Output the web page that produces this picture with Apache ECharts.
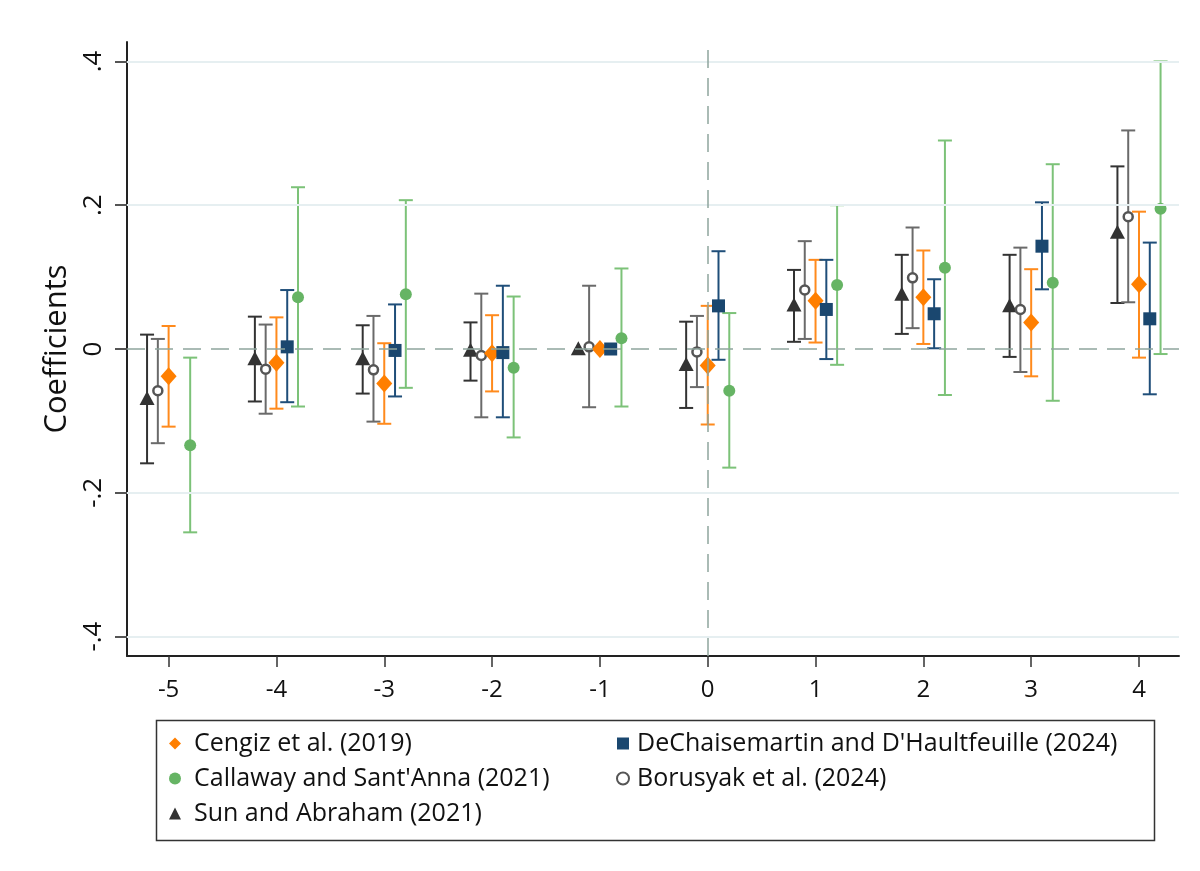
<!DOCTYPE html>
<html>
<head>
<meta charset="utf-8">
<script src="https://cdn.jsdelivr.net/npm/echarts@6/dist/echarts.min.js"></script>
<style>
  html, body { margin: 0; padding: 0; background: #fff; }
  #main { width: 1200px; height: 871px; }
</style>
</head>
<body>
<div id="main"></div>
<script>
// event-time periods
const periods = [-5, -4, -3, -2, -1, 0, 1, 2, 3, 4];
const yTicks = [-0.4, -0.2, 0, 0.2, 0.4];

// point estimates and 95% bounds (null = not shown)
const cengiz    = [-0.038, -0.019, -0.048, -0.006, 0.000, -0.023, 0.067, 0.072, 0.037, 0.090];
const cengizLo  = [-0.108, -0.083, -0.104, -0.059, null, -0.105, 0.009, 0.007, -0.038, -0.012];
const cengizHi  = [0.032, 0.044, 0.008, 0.047, null, 0.060, 0.124, 0.137, 0.111, 0.191];

const callaway   = [-0.134, 0.072, 0.076, -0.026, 0.015, -0.058, 0.089, 0.113, 0.092, 0.195];
const callawayLo = [-0.255, -0.080, -0.054, -0.123, -0.080, -0.165, -0.022, -0.064, -0.072, -0.007];
const callawayHi = [-0.012, 0.225, 0.207, 0.073, 0.112, 0.050, 0.200, 0.290, 0.257, 0.400];

const sun   = [-0.068, -0.013, -0.013, -0.001, 0.001, -0.021, 0.062, 0.077, 0.061, 0.163];
const sunLo = [-0.159, -0.073, -0.062, -0.044, null, -0.082, 0.010, 0.021, -0.011, 0.064];
const sunHi = [0.020, 0.045, 0.033, 0.037, null, 0.038, 0.110, 0.131, 0.131, 0.254];

const dechaise   = [null, 0.003, -0.002, -0.005, 0.000, 0.060, 0.055, 0.049, 0.143, 0.042];
const dechaiseLo = [null, -0.074, -0.066, -0.095, null, -0.015, -0.014, 0.001, 0.083, -0.063];
const dechaiseHi = [null, 0.082, 0.062, 0.088, null, 0.136, 0.124, 0.097, 0.204, 0.148];

const borusyak   = [-0.058, -0.028, -0.029, -0.009, 0.003, -0.004, 0.082, 0.099, 0.055, 0.184];
const borusyakLo = [-0.131, -0.090, -0.101, -0.095, -0.081, -0.053, 0.014, 0.029, -0.032, 0.065];
const borusyakHi = [0.014, 0.034, 0.046, 0.077, 0.088, 0.046, 0.150, 0.169, 0.141, 0.304];

const FONT = 'Open Sans';

const estimators = [
  { name: 'Sun and Abraham (2021)', pt: sun, lo: sunLo, hi: sunHi, shift: -0.2,
    symbol: 'triangle', size: [15, 14], color: '#333333', bar: '#333333' },
  { name: 'Borusyak et al. (2024)', pt: borusyak, lo: borusyakLo, hi: borusyakHi, shift: -0.1,
    symbol: 'circle', size: 9, color: '#ffffff', border: '#555555', bar: '#6a6a6a' },
  { name: 'Cengiz et al. (2019)', pt: cengiz, lo: cengizLo, hi: cengizHi, shift: 0,
    symbol: 'diamond', size: [16, 18], color: '#ff7f00', bar: '#ff8a1c' },
  { name: "DeChaisemartin and D'Haultfeuille (2024)", pt: dechaise, lo: dechaiseLo, hi: dechaiseHi, shift: 0.1,
    symbol: 'rect', size: 13, color: '#1a476f', bar: '#1f4e79' },
  { name: "Callaway and Sant'Anna (2021)", pt: callaway, lo: callawayLo, hi: callawayHi, shift: 0.2,
    symbol: 'circle', size: 12, color: '#66b464', bar: '#7cc278' }
];

function ciSeries(e) {
  const data = [];
  periods.forEach((p, i) => {
    if (e.lo[i] != null) data.push([p + e.shift, e.lo[i], e.hi[i]]);
  });
  return {
    name: e.name + ' CI',
    type: 'custom',
    z: 2,
    silent: true,
    data: data,
    encode: { x: 0, y: [1, 2] },
    renderItem: function (params, api) {
      const top = api.coord([api.value(0), api.value(2)]);
      const bot = api.coord([api.value(0), api.value(1)]);
      const hw = 7;
      const st = { stroke: e.bar, lineWidth: 2 };
      return {
        type: 'group',
        children: [
          { type: 'line', shape: { x1: top[0], y1: top[1], x2: bot[0], y2: bot[1] }, style: st },
          { type: 'line', shape: { x1: top[0] - hw, y1: top[1], x2: top[0] + hw, y2: top[1] }, style: st },
          { type: 'line', shape: { x1: bot[0] - hw, y1: bot[1], x2: bot[0] + hw, y2: bot[1] }, style: st }
        ]
      };
    }
  };
}

function pointSeries(e) {
  const data = [];
  periods.forEach((p, i) => {
    if (e.pt[i] != null) data.push([p + e.shift, e.pt[i]]);
  });
  return {
    name: e.name,
    type: 'scatter',
    z: 3,
    symbol: e.symbol,
    symbolSize: e.size,
    data: data,
    itemStyle: e.border
      ? { color: e.color, borderColor: e.border, borderWidth: 2.5, opacity: 1 }
      : { color: e.color, opacity: 1 }
  };
}

const series = [];
// reference lines and light grid lines
series.push({
  name: 'ref',
  type: 'line',
  data: [],
  z: 1,
  silent: true,
  markLine: {
    silent: true,
    symbol: 'none',
    label: { show: false },
    animation: false,
    data: [
      { yAxis: -0.4, lineStyle: { color: '#e6eff1', width: 2, type: 'solid' } },
      { yAxis: -0.2, lineStyle: { color: '#e6eff1', width: 2, type: 'solid' } },
      { yAxis: 0.2, lineStyle: { color: '#e6eff1', width: 2, type: 'solid' } },
      { yAxis: 0.4, lineStyle: { color: '#e6eff1', width: 2, type: 'solid' } },
      { yAxis: 0, lineStyle: { color: '#8fa59d', width: 1.5, type: [18, 10] } },
      { xAxis: 0, lineStyle: { color: '#8fa59d', width: 1.5, type: [18, 10] } }
    ]
  }
});
estimators.forEach(e => series.push(ciSeries(e)));
estimators.forEach(e => series.push(pointSeries(e)));

function legendItem(name, icon) {
  return { name: name, icon: icon };
}

const legendBase = {
  orient: 'vertical',
  top: 726,
  itemWidth: 12,
  itemHeight: 12,
  itemGap: 10
};

const chart = echarts.init(document.getElementById('main'));
chart.setOption({
  animation: false,
  backgroundColor: '#ffffff',
  grid: { left: 127, right: 21, top: 42, bottom: 215, containLabel: false },
  xAxis: {
    type: 'value',
    min: -5.386,
    max: 4.371,
    axisLine: { show: true, onZero: false, lineStyle: { color: '#222', width: 2 } },
    axisTick: { show: true, length: 11, customValues: periods, lineStyle: { color: '#333', width: 1.5 } },
    axisLabel: { customValues: periods, margin: 22, fontFamily: FONT, fontSize: 24, color: '#111' },
    splitLine: { show: false }
  },
  yAxis: {
    type: 'value',
    min: -0.427,
    max: 0.427,
    name: 'Coefficients',
    nameLocation: 'middle',
    nameGap: 44,
    nameRotate: 90,
    nameTextStyle: { fontFamily: FONT, fontSize: 31, color: '#111' },
    axisLine: { show: true, onZero: false, lineStyle: { color: '#222', width: 2 } },
    axisTick: { show: true, length: 12, customValues: yTicks, lineStyle: { color: '#555', width: 2 } },
    axisLabel: {
      customValues: yTicks,
      rotate: 90,
      margin: 20,
      fontFamily: FONT,
      fontSize: 26,
      color: '#111',
      formatter: function (v) {
        if (Math.abs(v) < 1e-9) return '0';
        return (v < 0 ? '-' : '') + String(Math.abs(v)).replace(/^0/, '');
      }
    },
    splitLine: { show: false }
  },
  legend: [
    Object.assign({}, legendBase, {
      left: 164,
      textStyle: { fontFamily: FONT, fontSize: 25, color: '#111', padding: [0, 0, 0, 8] },
      data: [
        legendItem('Cengiz et al. (2019)', 'diamond'),
        legendItem("Callaway and Sant'Anna (2021)", 'circle'),
        legendItem('Sun and Abraham (2021)', 'triangle')
      ]
    }),
    Object.assign({}, legendBase, {
      left: 611,
      textStyle: { fontFamily: FONT, fontSize: 25, color: '#111', padding: [0, 0, 0, 3] },
      data: [
        legendItem("DeChaisemartin and D'Haultfeuille (2024)", 'rect'),
        legendItem('Borusyak et al. (2024)', 'circle')
      ]
    })
  ],
  graphic: [
    {
      type: 'rect',
      left: 154,
      top: 718,
      shape: { width: 998, height: 120 },
      style: { fill: 'none', stroke: '#333', lineWidth: 1.5 },
      silent: true
    }
  ],
  series: series
});
</script>
</body>
</html>
